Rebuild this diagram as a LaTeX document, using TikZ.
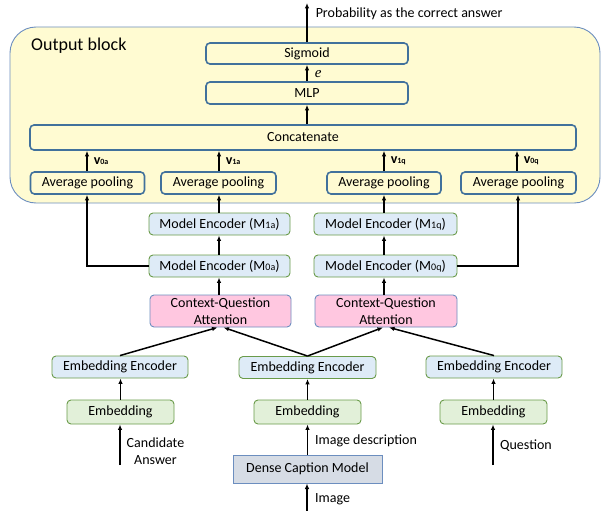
\documentclass[tikz,border=0pt]{standalone}
\usepackage{fontspec}
\setmainfont{Carlito}
\newfontfamily\serifit{Liberation Serif}
\usetikzlibrary{arrows.meta}

\definecolor{blockfill}{HTML}{FFFBD2}
\definecolor{blockline}{HTML}{6C8EBF}
\definecolor{outline}{HTML}{41719C}
\definecolor{encfill}{HTML}{DEEBF7}
\definecolor{embfill}{HTML}{E2F0D9}
\definecolor{greenline}{HTML}{6A9B4A}
\definecolor{attfill}{HTML}{FFC7E0}
\definecolor{densefill}{HTML}{D6DCE5}

\tikzset{
    txt/.style={font=\fontsize{14}{17}\selectfont, inner sep=0pt},
    box/.style={txt, rounded corners=4pt, minimum height=22pt},
    outbox/.style={box, draw=outline, line width=1.6pt, fill=blockfill},
    encbox/.style={box, draw=greenline, line width=0.9pt, fill=encfill},
    embbox/.style={box, draw=greenline, line width=0.9pt, fill=embfill, minimum height=24pt},
    attbox/.style={box, draw=blockline, line width=0.9pt, fill=attfill, minimum height=32pt, align=center},
    arr/.style={-{Latex[length=5.5pt,width=4.5pt]}, line width=1.5pt},
    ln/.style={line width=1.5pt}
}
\newcommand{\sub}[1]{{\fontsize{10}{10}\selectfont #1}}
\newcommand{\vlab}[1]{\textbf{v}{\fontsize{8}{8}\selectfont\bfseries #1}}

\begin{document}
\begin{tikzpicture}[x=1pt, y=-1pt]
    \useasboundingbox (0, 0) rectangle (602, 511);

    \draw[blockline, fill=blockfill, line width=0.9pt, rounded corners=26pt]
	(10, 27) rectangle (600, 203);
    \node[txt, anchor=west, font=\fontsize{18}{20}\selectfont] (title) at (31, 46) {Output block};

    \node[outbox, minimum width=202pt, minimum height=21pt] (sig) at (307, 53.5) {Sigmoid};
    \node[outbox, minimum width=202pt] (mlp) at (307, 93) {MLP};
    \node[outbox, minimum width=546pt, minimum height=25pt] (cat) at (303, 137.5) {Concatenate};

    \node[outbox, minimum width=114pt] (pool0a) at (87.5, 183) {Average pooling};
    \node[outbox, minimum width=115pt] (pool1a) at (218.5, 183) {Average pooling};
    \node[outbox, minimum width=114pt] (pool1q) at (384, 183) {Average pooling};
    \node[outbox, minimum width=115pt] (pool0q) at (518.5, 183) {Average pooling};

    \node[encbox, minimum width=141pt] (enc1a) at (219.5, 224) {Model Encoder (M\sub{1a})};
    \node[encbox, minimum width=143pt] (enc1q) at (385.5, 224) {Model Encoder (M\sub{1q})};
    \node[encbox, minimum width=141pt] (enc0a) at (219.5, 266) {Model Encoder (M\sub{0a})};
    \node[encbox, minimum width=143pt] (enc0q) at (385.5, 266) {Model Encoder (M\sub{0q})};

    \node[attbox, minimum width=141pt] (att1) at (220.5, 311) {Context-Question\\Attention};
    \node[attbox, minimum width=142pt] (att2) at (386, 311) {Context-Question\\Attention};

    \node[encbox, minimum width=136pt] (ee1) at (120, 367) {Embedding Encoder};
    \node[encbox, minimum width=137pt] (ee2) at (307.5, 367.5) {Embedding Encoder};
    \node[encbox, minimum width=136pt] (ee3) at (494, 367) {Embedding Encoder};

    \node[embbox, minimum width=107pt] (emb1) at (120.5, 412) {Embedding};
    \node[embbox, minimum width=107pt] (emb2) at (307.5, 412) {Embedding};
    \node[embbox, minimum width=107pt] (emb3) at (493.5, 412) {Embedding};

    \node[box, draw=blockline, line width=1pt, fill=densefill, rounded corners=0pt,
	minimum width=149pt, minimum height=28pt] (dense) at (307.5, 469) {Dense Caption Model};

    \coordinate (top) at (307, 3);
    \coordinate (cand) at (120, 465);
    \coordinate (img) at (307, 511);
    \coordinate (ques) at (493, 465);

    \draw[arr] (sig.north) -- (top)
	node[txt, anchor=west, pos=0.72, xshift=8pt] (prob) {Probability as the correct answer};
    \draw[arr] (mlp.north) -- (sig.south)
	node[txt, midway, right, xshift=7pt, yshift=-1pt] (elab) {\serifit\itshape\fontsize{15}{15}\selectfont e};
    \draw[arr] (cat.north -| mlp) -- (mlp.south);

    \draw[arr] (pool0a.north -| 87, 0) -- (cat.south -| 87, 0)
	node[txt, midway, right, xshift=6pt] (v0a) {\vlab{0a}};
    \draw[arr] (pool1a.north -| 219, 0) -- (cat.south -| 219, 0)
	node[txt, midway, right, xshift=6pt] (v1a) {\vlab{1a}};
    \draw[arr] (pool1q.north) -- (cat.south -| pool1q)
	node[txt, midway, right, xshift=6pt] (v1q) {\vlab{1q}};
    \draw[arr] (pool0q.north -| 517, 0) -- (cat.south -| 517, 0)
	node[txt, midway, right, xshift=6pt] (v0q) {\vlab{0q}};

    \draw[arr] (enc0a.west) -| (pool0a.south -| 87, 0);
    \draw[arr] (enc0q.east) -| (pool0q.south -| 518, 0);
    \draw[arr] (enc1a.north -| 219, 0) -- (pool1a.south -| 219, 0);
    \draw[arr] (enc1q.north -| pool1q) -- (pool1q.south);
    \draw[arr] (enc0a.north -| 219, 0) -- (enc1a.south -| 219, 0);
    \draw[arr] (enc0q.north -| pool1q) -- (enc1q.south -| pool1q);
    \draw[arr] (att1.north -| 219, 0) -- (enc0a.south -| 219, 0);
    \draw[arr] (att2.north -| pool1q) -- (enc0q.south -| pool1q);

    \draw[arr] (ee1.north) -- ([xshift=-3pt]att1.south);
    \draw[arr] (ee2.north) -- ([xshift=3pt]att1.south);
    \draw[arr] (ee2.north) -- ([xshift=-3pt]att2.south);
    \draw[arr] (ee3.north) -- ([xshift=3pt]att2.south);

    \draw[arr] (emb1.north) -- (ee1.south -| emb1);
    \draw[arr] (emb2.north) -- (ee2.south -| emb2);
    \draw[arr] (emb3.north) -- (ee3.south -| emb3);

    \draw[arr] (cand) -- (emb1.south -| cand);
    \node[txt, align=center] (candlab) at (155.5, 451.5) {Candidate\\Answer};
    \draw[arr] (dense.north) -- (emb2.south);
    \node[txt, anchor=west] (desclab) at (315, 441) {Image description};
    \draw[arr] (ques) -- (emb3.south -| ques);
    \node[txt, anchor=west] (queslab) at (500, 446) {Question};
    \draw[arr] (img) -- (dense.south -| img);
    \node[txt, anchor=west] (imglab) at (315, 499) {Image};
\end{tikzpicture}
\end{document}
